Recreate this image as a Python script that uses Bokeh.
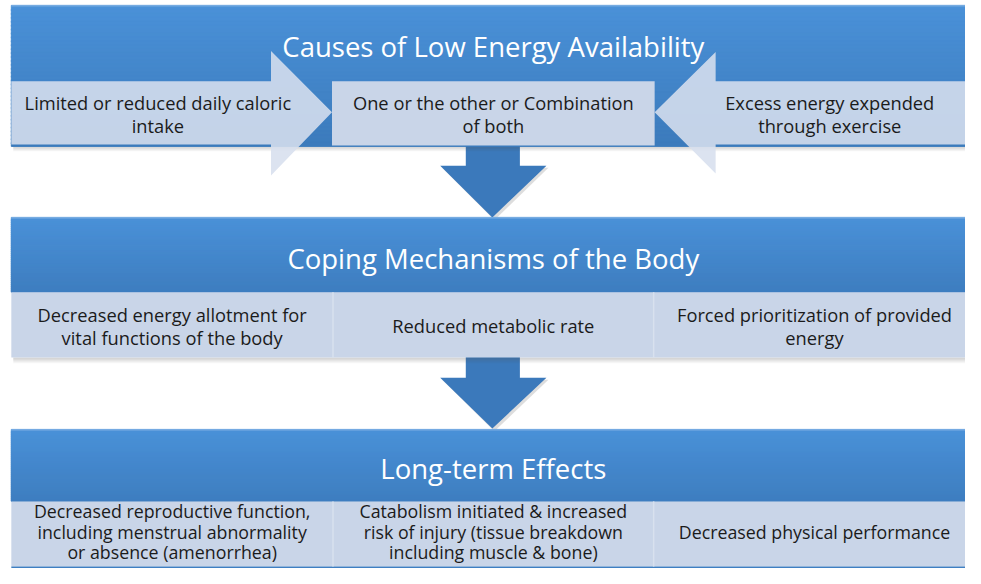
from bokeh.plotting import figure
from bokeh.models import Range1d
from bokeh.embed import file_html
from bokeh.resources import INLINE
from bokeh.core.properties import value

# ---- content ----
section_titles = ["Causes of Low Energy Availability",
                  "Coping Mechanisms of the Body",
                  "Long-term Effects"]
cause_texts = ["Limited or reduced daily caloric\nintake",
               "One or the other or Combination\nof both",
               "Excess energy expended\nthrough exercise"]
coping_texts = ["Decreased energy allotment for\nvital functions of the body",
                "Reduced metabolic rate",
                "Forced prioritization of provided\nenergy"]
effect_texts = ["Decreased reproductive function,\nincluding menstrual abnormality\nor absence (amenorrhea)",
                "Catabolism initiated & increased\nrisk of injury (tissue breakdown\nincluding muscle & bone)",
                "Decreased physical performance"]

W, H = 981, 584
p = figure(width=965, height=568, x_range=Range1d(0, W), y_range=Range1d(H, 0),
           output_backend="svg", toolbar_location=None, min_border=0)
p.axis.visible = False
p.grid.visible = False
p.outline_line_color = None
p.background_fill_color = "white"
p.border_fill_color = "white"

FONT = value("Open Sans")
BODY = "18.3px"
BODY3 = "17.8px"
TITLE = "27.5px"
TXT = "#1b1b1b"
CELL = "#C9D5E8"


def hexc(c):
    return "#%02x%02x%02x" % tuple(int(round(v)) for v in c)


def gradient(x0, x1, y0, y1, c0, c1, n=36):
    l, r, t, b, cols = [], [], [], [], []
    for i in range(n):
        f = i / (n - 1)
        l.append(x0); r.append(x1)
        t.append(y0 + (y1 - y0) * i / n)
        b.append(min(y1, y0 + (y1 - y0) * (i + 1) / n + 1.5))
        cols.append(hexc([c0[k] + (c1[k] - c0[k]) * f for k in range(3)]))
    p.quad(left=l, right=r, top=t, bottom=b, fill_color=cols, line_color=cols,
           line_width=1)


def shadow(x0, x1, y, depth=6):
    for i in range(depth):
        a = 0.28 * (1 - i / depth)
        p.quad(left=[x0 + 2], right=[x1], top=[y + i], bottom=[y + i + 1],
               fill_color="#555555", fill_alpha=a, line_color=None)


def multiline(txt, cx, cy, spacing, size, color, **kw):
    lines = txt.split("\n")
    n = len(lines)
    ys = [cy + (i - (n - 1) / 2) * spacing for i in range(n)]
    p.text(x=[cx] * n, y=ys, text=lines, text_font=FONT, text_font_size=size,
           text_color=color, text_align="center", text_baseline="middle", **kw)


BLUE_TOP = (74, 145, 216)
BLUE_BOT = (62, 126, 192)
X0, X1 = 11, 991
edges = [11, 338, 664, 991]
centers = [(edges[i] + edges[i + 1]) / 2 for i in range(3)]

# ---- down arrows (behind banners) ----
def down_arrow(ytop, yneck, yapex):
    p.patch(x=[449, 557, 502], y=[yneck + 2, yneck + 2, yapex + 3], fill_color="#777777",
            fill_alpha=0.25, line_color=None)
    p.patch(x=[473, 528, 528, 555, 500, 447, 473, 473],
            y=[ytop, ytop, yneck, yneck, yapex, yneck, yneck, ytop],
            fill_color="#3B79BB", line_color=None)

down_arrow(140, 170, 223)
down_arrow(360, 388, 440)

# ---- section 1 ----
shadow(X0, W, 150, 5)
gradient(X0, X1, 5, 150, BLUE_TOP, (60, 123, 188))
p.segment(x0=[X0], y0=[5.5], x1=[X1], y1=[5.5], line_color="#8CB8E6", line_width=1)
p.text(x=[501], y=[47], text=[section_titles[0]], text_font=FONT, text_font_size=TITLE,
       text_color="white", text_align="center", text_baseline="middle")

# middle box
p.quad(left=[337], right=[665], top=[83], bottom=[149], fill_color=CELL, line_color=None)
# right-pointing arrow (left)
p.patch(x=[11, 275, 275, 337, 275, 275, 11], y=[83, 83, 52, 115, 180, 148, 148],
        fill_color=hexc((215, 223, 238)), fill_alpha=0.88, line_color=None)
# left-pointing arrow (right)
p.patch(x=[991, 727, 727, 665, 727, 727, 991], y=[83, 83, 53, 115, 178, 148, 148],
        fill_color=hexc((215, 223, 238)), fill_alpha=0.88, line_color=None)

cause_x = [160, 501, 843]
for t, cx in zip(cause_texts, cause_x):
    multiline(t, cx, 117, 24, BODY, TXT)

# ---- section 2 ----
shadow(X0, W, 367, 6)
gradient(X0, X1, 223, 300, BLUE_TOP, BLUE_BOT)
p.segment(x0=[X0], y0=[223.5], x1=[X1], y1=[223.5], line_color="#8CB8E6", line_width=1)
p.quad(left=[X0], right=[X1], top=[300], bottom=[367], fill_color=CELL, line_color=None)
p.segment(x0=edges[1:3], y0=[300, 300], x1=edges[1:3], y1=[367, 367],
          line_color="#D8E1EE", line_width=1.5)
p.text(x=[501], y=[265], text=[section_titles[1]], text_font=FONT, text_font_size=TITLE,
       text_color="white", text_align="center", text_baseline="middle")
cope_y = [335, 334, 335]
for t, cx, cy in zip(coping_texts, centers, cope_y):
    multiline(t, cx, cy, 24, BODY, TXT)

# ---- section 3 ----
gradient(X0, X1, 441, 515, BLUE_TOP, BLUE_BOT)
p.segment(x0=[X0], y0=[441.5], x1=[X1], y1=[441.5], line_color="#8CB8E6", line_width=1)
p.quad(left=[X0], right=[X1], top=[515], bottom=[582], fill_color=CELL, line_color=None)
p.quad(left=[X0], right=[X1], top=[582], bottom=[584], fill_color="#3F7FC2", line_color=None)
p.segment(x0=edges[1:3], y0=[515, 515], x1=edges[1:3], y1=[582, 582],
          line_color="#D8E1EE", line_width=1.5)
p.text(x=[501], y=[481], text=[section_titles[2]], text_font=FONT, text_font_size=TITLE,
       text_color="white", text_align="center", text_baseline="middle")
for t, cx in zip(effect_texts, centers):
    multiline(t, cx, 546, 21.5, BODY3, TXT)

open("out.html", "w").write(file_html(p, INLINE))
